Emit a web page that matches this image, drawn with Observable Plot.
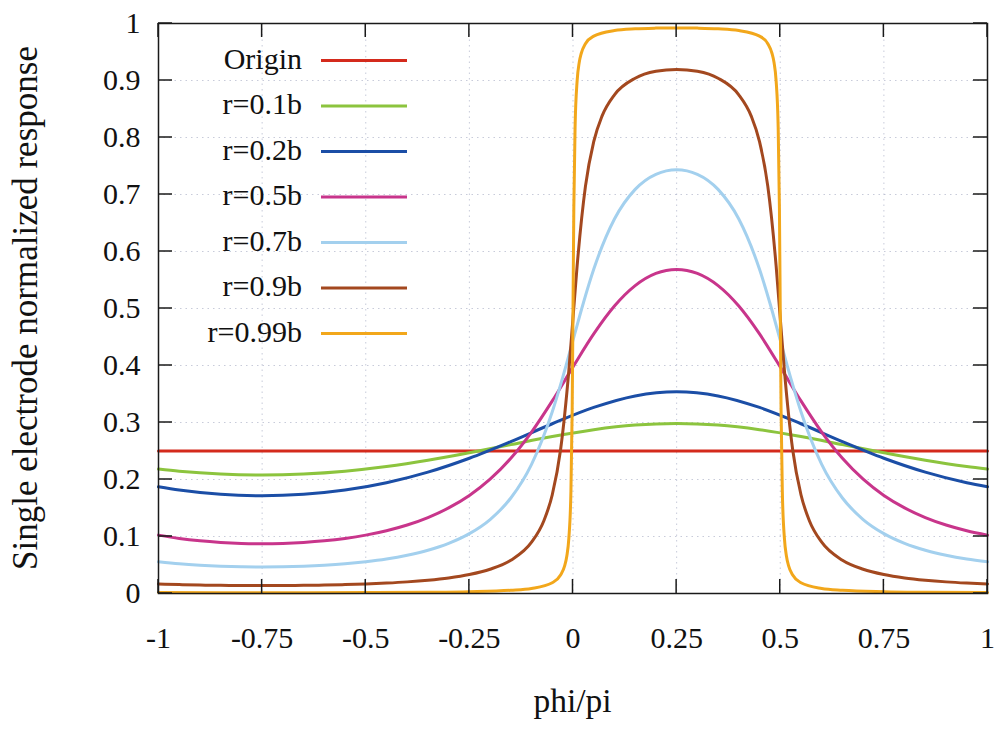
<!DOCTYPE html>
<html><head><meta charset="utf-8">
<script src="https://cdn.jsdelivr.net/npm/d3@7"></script>
<script src="https://cdn.jsdelivr.net/npm/@observablehq/plot@0.6"></script>
<style>
body{margin:0;background:#fff;}
#chart{position:relative;width:999px;height:730px;}
</style>
</head><body><div id="chart"></div>
<script>
// ---- data ----
const seriesNames = ["Origin", "r=0.1b", "r=0.2b", "r=0.5b", "r=0.7b", "r=0.9b", "r=0.99b"];
const seriesColors = ["#d42a1c", "#8cc43e", "#1b4ea6", "#c8358b", "#a3d0ee", "#a3481f", "#f2a71b"];

const xTicks = [-1, -0.75, -0.5, -0.25, 0, 0.25, 0.5, 0.75, 1];
const xTickLabels = ["-1", "-0.75", "-0.5", "-0.25", "0", "0.25", "0.5", "0.75", "1"];
const yTicks = [0, 0.1, 0.2, 0.3, 0.4, 0.5, 0.6, 0.7, 0.8, 0.9, 1];
const yTickLabels = ["0", "0.1", "0.2", "0.3", "0.4", "0.5", "0.6", "0.7", "0.8", "0.9", "1"];
const xTitle = "phi/pi";
const yTitle = "Single electrode normalized response";

const originX = [-1, 1];
const originY = [0.25, 0.25];

const x01 = [-1,-0.95,-0.85,-0.75,-0.65,-0.55,-0.45,-0.35,-0.25,-0.15,-0.05,0.05,0.15,0.25,0.35,0.45,0.55,0.65,0.75,0.85,0.95,1];
const y01 = [0.2183,0.2146,0.2097,0.2080,0.2097,0.2146,0.2227,0.2336,0.2469,0.2612,0.2753,0.2874,0.2955,0.2983,0.2955,0.2874,0.2753,0.2612,0.2469,0.2336,0.2227,0.2183];

const x02 = [-1,-0.95,-0.85,-0.75,-0.65,-0.55,-0.45,-0.35,-0.25,-0.15,-0.05,0.05,0.15,0.25,0.35,0.45,0.55,0.65,0.75,0.85,0.95,1];
const y02 = [0.1872,0.1814,0.1740,0.1715,0.1740,0.1814,0.1943,0.2129,0.2373,0.2665,0.2978,0.3264,0.3466,0.3539,0.3466,0.3264,0.2978,0.2665,0.2373,0.2129,0.1943,0.1872];

const x05 = [-1,-0.95,-0.9,-0.85,-0.8,-0.75,-0.7,-0.65,-0.6,-0.55,-0.5,-0.45,-0.4,-0.35,-0.3,-0.25,-0.2,-0.15,-0.1,-0.05,0,0.05,0.1,0.15,0.2,0.25,0.3,0.35,0.4,0.45,0.5,0.55,0.6,0.65,0.7,0.75,0.8,0.85,0.9,0.95,1];
const y05 = [0.1024,0.0966,0.0924,0.0896,0.0879,0.0873,0.0879,0.0896,0.0924,0.0966,0.1024,0.1101,0.1201,0.1332,0.1501,0.1720,0.2005,0.2372,0.2832,0.3379,0.3976,0.4554,0.5043,0.5401,0.5615,0.5686,0.5615,0.5401,0.5043,0.4554,0.3976,0.3379,0.2832,0.2372,0.2005,0.1720,0.1501,0.1332,0.1201,0.1101,0.1024];

const x07 = [-1,-0.95,-0.9,-0.85,-0.8,-0.75,-0.7,-0.65,-0.6,-0.55,-0.5,-0.45,-0.4,-0.35,-0.3,-0.25,-0.2,-0.15,-0.1,-0.05,-0.025,0,0.025,0.05,0.1,0.15,0.2,0.25,0.3,0.35,0.4,0.45,0.475,0.5,0.525,0.55,0.6,0.65,0.7,0.75,0.8,0.85,0.9,0.95,1];
const y07 = [0.0556,0.0520,0.0495,0.0478,0.0468,0.0465,0.0468,0.0478,0.0495,0.0520,0.0556,0.0604,0.0670,0.0758,0.0879,0.1050,0.1298,0.1675,0.2266,0.3189,0.3788,0.4444,0.5097,0.5687,0.6570,0.7090,0.7355,0.7436,0.7355,0.7090,0.6570,0.5687,0.5097,0.4444,0.3788,0.3189,0.2266,0.1675,0.1298,0.1050,0.0879,0.0758,0.0670,0.0604,0.0556];

const x09 = [-1,-0.95,-0.9,-0.85,-0.8,-0.75,-0.7,-0.65,-0.6,-0.55,-0.5,-0.45,-0.4,-0.35,-0.3,-0.25,-0.2,-0.15,-0.1,-0.07,-0.05,-0.03,-0.01,0,0.01,0.03,0.05,0.07,0.1,0.15,0.2,0.25,0.3,0.35,0.4,0.43,0.45,0.47,0.49,0.5,0.51,0.53,0.55,0.57,0.6,0.65,0.7,0.75,0.8,0.85,0.9,0.95,1];
const y09 = [0.0167,0.0156,0.0148,0.0143,0.0140,0.0139,0.0140,0.0143,0.0148,0.0156,0.0167,0.0183,0.0204,0.0233,0.0273,0.0333,0.0426,0.0584,0.0900,0.1282,0.1733,0.2522,0.3915,0.4833,0.5751,0.7142,0.7928,0.8375,0.8749,0.9040,0.9161,0.9195,0.9161,0.9040,0.8749,0.8375,0.7928,0.7142,0.5751,0.4833,0.3915,0.2522,0.1733,0.1282,0.0900,0.0584,0.0426,0.0333,0.0273,0.0233,0.0204,0.0183,0.0167];

const x099 = [-1,-0.85,-0.75,-0.65,-0.5,-0.35,-0.25,-0.15,-0.1,-0.05,-0.03,-0.02,-0.015,-0.01,-0.005,-0.002,0,0.002,0.005,0.01,0.015,0.02,0.03,0.05,0.1,0.15,0.2,0.25,0.3,0.35,0.4,0.45,0.47,0.48,0.485,0.49,0.495,0.498,0.5,0.502,0.505,0.51,0.515,0.52,0.53,0.55,0.6,0.65,0.75,0.85,1];
const y099 = [0.0016,0.0014,0.0013,0.0014,0.0016,0.0022,0.0032,0.0057,0.0089,0.0189,0.0323,0.0490,0.0654,0.0970,0.1796,0.3206,0.4984,0.6762,0.8172,0.8998,0.9315,0.9478,0.9645,0.9778,0.9877,0.9907,0.9919,0.9923,0.9919,0.9907,0.9877,0.9778,0.9645,0.9478,0.9315,0.8998,0.8172,0.6762,0.4984,0.3206,0.1796,0.0970,0.0654,0.0490,0.0323,0.0189,0.0089,0.0057,0.0032,0.0022,0.0016];

// ---- assemble ----
const seriesX = [originX, x01, x02, x05, x07, x09, x099];
const seriesY = [originY, y01, y02, y05, y07, y09, y099];
const rows = seriesX.flatMap((xs, k) => xs.map((x, i) => ({x, y: seriesY[k][i], k})));
const xLab = new Map(xTicks.map((v, i) => [v, xTickLabels[i]]));
const yLab = new Map(yTicks.map((v, i) => [v, yTickLabels[i]]));

const FONT = "'Liberation Serif', 'Times New Roman', serif";

const plot = Plot.plot({
  width: 999,
  height: 730,
  marginLeft: 158,
  marginRight: 12,
  marginTop: 23,
  marginBottom: 137,
  x: {domain: [-1, 1]},
  y: {domain: [0, 1]},
  style: {fontFamily: FONT, background: "#fff", color: "#111"},
  marks: [
    Plot.gridX(xTicks, {stroke: "#9aa0bb", strokeOpacity: 0.55, strokeDasharray: "1.5,4"}),
    Plot.gridY(yTicks, {stroke: "#9aa0bb", strokeOpacity: 0.55, strokeDasharray: "1.5,4"}),
    Plot.axisX(xTicks, {tickSize: 0, tickPadding: 33, fontSize: 30, tickFormat: d => xLab.get(d), label: null}),
    Plot.axisY(yTicks, {tickSize: 0, tickPadding: 18, fontSize: 30, tickFormat: d => yLab.get(d), label: null}),
    ...seriesColors.map((c, k) => Plot.line(rows.filter(r => r.k === k), {
      x: "x", y: "y", stroke: c, strokeWidth: 3, curve: "monotone-x"
    })),
    Plot.frame({stroke: "#1a1a1a", strokeWidth: 1.5})
  ]
});

document.getElementById("chart").appendChild(plot);

// inward ticks on all four sides, using the plot's scales
const svgSel = d3.select(plot);
const sx = plot.scale("x"), sy = plot.scale("y");
const pxLeft = sx.apply(-1), pxRight = sx.apply(1), pyBottom = sy.apply(0), pyTop = sy.apply(1);
const TL = 14;
const tg = svgSel.append("g").attr("stroke", "#1a1a1a").attr("stroke-width", 1.5);
xTicks.forEach(v => {
  const px = sx.apply(v);
  tg.append("line").attr("x1", px).attr("x2", px).attr("y1", pyBottom).attr("y2", pyBottom - TL);
  tg.append("line").attr("x1", px).attr("x2", px).attr("y1", pyTop).attr("y2", pyTop + TL);
});
yTicks.forEach(v => {
  const py = sy.apply(v);
  tg.append("line").attr("x1", pxLeft).attr("x2", pxLeft + TL).attr("y1", py).attr("y2", py);
  tg.append("line").attr("x1", pxRight).attr("x2", pxRight - TL).attr("y1", py).attr("y2", py);
});

// legend (inside, top-left)
const lg = svgSel.append("g").attr("font-family", FONT).attr("font-size", 30).attr("fill", "#111");
seriesNames.forEach((name, k) => {
  const yy = 60.5 + k * 45.5;
  lg.append("text").attr("x", 302).attr("y", yy + 8).attr("text-anchor", "end").text(name);
  lg.append("line").attr("x1", 321).attr("x2", 407).attr("y1", yy).attr("y2", yy)
    .attr("stroke", seriesColors[k]).attr("stroke-width", 3);
});

// axis titles
svgSel.append("text").attr("x", (pxLeft + pxRight) / 2).attr("y", 712)
  .attr("text-anchor", "middle").attr("font-family", FONT).attr("font-size", 33.5).attr("fill", "#111")
  .text(xTitle);
svgSel.append("text").attr("transform", `translate(37, ${(pyTop + pyBottom) / 2}) rotate(-90)`)
  .attr("text-anchor", "middle").attr("font-family", FONT).attr("font-size", 35).attr("fill", "#111")
  .text(yTitle);
</script>
</body></html>
